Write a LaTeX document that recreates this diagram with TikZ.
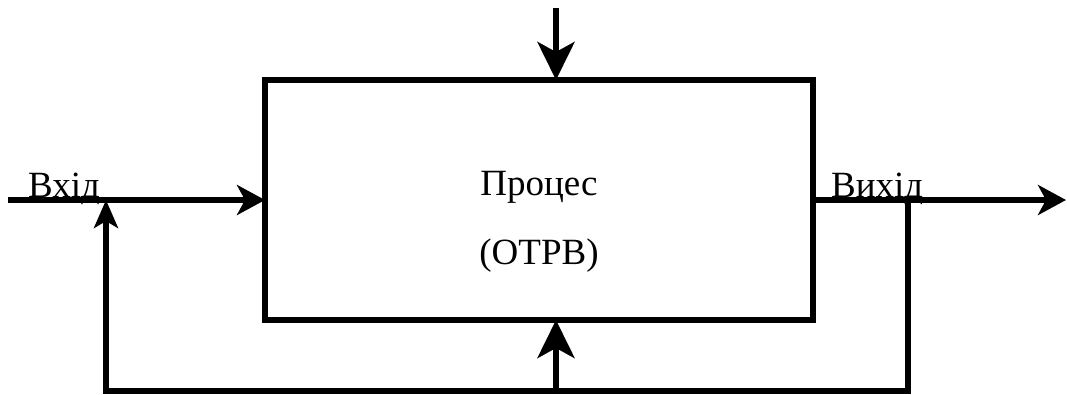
\documentclass[tikz,border=0pt]{standalone}
\usepackage{fontspec}
\setmainfont{Liberation Serif}
\usetikzlibrary{arrows.meta}
\begin{document}
\begin{tikzpicture}[x=1pt,y=-1pt,
  conn/.style={line width=6pt},
  arr/.style={conn,-{Stealth[length=28pt,width=30pt,inset=8pt]}},
  bigarr/.style={conn,-{Stealth[length=38pt,width=37pt,inset=10pt]}},
  narrowarr/.style={conn,-{Stealth[length=28pt,width=24pt,inset=7pt]}},
  lbl/.style={font=\fontsize{37}{42}\selectfont,inner sep=0pt},
  procbox/.style={draw,line width=6pt,minimum width=548pt,minimum height=240pt,inner sep=0pt,outer sep=0pt}]
\useasboundingbox (0,0) rectangle (1067,394);
\node[procbox] (box) at (539,200) {};
\node[lbl,anchor=base] (t1) at (539,195) {Процес};
\node[lbl,anchor=base] (t2) at (539,264) {(ОТРВ)};
\node[lbl,anchor=base west] (in) at (28,197) {Вхід};
\node[lbl,anchor=base west] (out) at (831,197) {Вихід};
\coordinate (instart) at (8,200);
\coordinate (outend) at (1066,200);
\coordinate (topstart) at (556,8);
\coordinate (fbr) at (908,200);
\coordinate (fbrb) at (908,391);
\coordinate (fblb) at (106,391);
\coordinate (fbl) at (106,200);
\coordinate (fbm) at (556,391);
\draw[arr] (instart) -- (box.west);
\draw[arr] (box.east) -- (outend);
\draw[bigarr] (topstart) -- (topstart |- box.north);
\draw[bigarr] (fbm) -- (fbm |- box.south);
\draw[narrowarr] (fbr) -- (fbrb) -- (fblb) -- (fbl);
\end{tikzpicture}
\end{document}
